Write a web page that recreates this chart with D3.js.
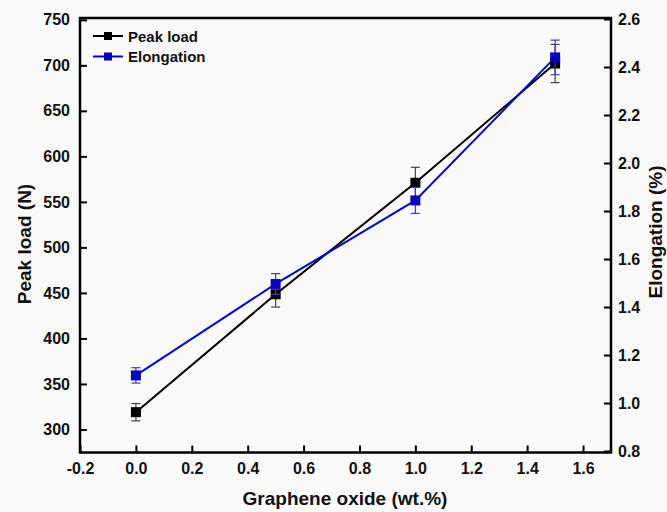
<!DOCTYPE html>
<html>
<head>
<meta charset="utf-8">
<script src="https://cdn.jsdelivr.net/npm/d3@7"></script>
<style>
  html, body { margin: 0; padding: 0; background: #fafafa; }
  svg { display: block; }
  text { font-family: "Liberation Sans", Arial, sans-serif; font-weight: bold; fill: #111; }
</style>
</head>
<body>
<svg id="chart" width="667" height="512"></svg>
<script>
// Graphene oxide content (wt.%)
const goContent = [0.0, 0.5, 1.0, 1.5];
// Peak load (N) and its error
const peakLoad = [319, 448.5, 571, 702];
const peakLoadErr = [9.5, 14, 17, 21];
// Elongation (%) and its error
const elongation = [1.115, 1.496, 1.844, 2.44];
const elongationErr = [0.032, 0.043, 0.054, 0.072];

const xTicks = [-0.2, 0.0, 0.2, 0.4, 0.6, 0.8, 1.0, 1.2, 1.4, 1.6];
const leftTicks = [300, 350, 400, 450, 500, 550, 600, 650, 700, 750];
const rightTicks = [0.8, 1.0, 1.2, 1.4, 1.6, 1.8, 2.0, 2.2, 2.4, 2.6];

const seriesNames = ["Peak load", "Elongation"];
const seriesColors = ["#000000", "#0606bb"];
const errColors = ["#444444", "#3a3ad0"];

const svg = d3.select("#chart");
const plotLeft = 80, plotRight = 611, plotTop = 18, plotBottom = 452.5;

const x = d3.scaleLinear().domain([-0.2, 1.7]).range([plotLeft, plotRight]);
const yL = d3.scaleLinear().domain([274.7, 752]).range([plotBottom, plotTop]);
const yR = d3.scaleLinear().domain([0.8, 2.6]).range([451, 19]);

// one decimal, plain hyphen for negatives
const fmt1 = d => d.toFixed(1);

// Axes with inward ticks
const axisStyle = g => {
  g.selectAll(".domain").remove();
  g.selectAll(".tick line").attr("stroke", "#000").attr("stroke-width", 2);
  g.selectAll(".tick text").attr("font-size", 16).attr("font-weight", "bold")
    .attr("font-family", "Liberation Sans, Arial, sans-serif").attr("fill", "#111");
};

svg.append("g").attr("transform", `translate(0,${plotBottom})`)
  .call(d3.axisBottom(x).tickValues(xTicks).tickFormat(fmt1).tickSizeInner(-7).tickSizeOuter(0).tickPadding(10))
  .call(axisStyle);

svg.append("g").attr("transform", `translate(${plotLeft},0)`)
  .call(d3.axisLeft(yL).tickValues(leftTicks).tickFormat(d3.format("d")).tickSizeInner(-7).tickSizeOuter(0).tickPadding(10))
  .call(axisStyle);

svg.append("g").attr("transform", `translate(${plotRight},0)`)
  .call(d3.axisRight(yR).tickValues(rightTicks).tickFormat(fmt1).tickSizeInner(-7).tickSizeOuter(0).tickPadding(7))
  .call(axisStyle);

// Frame
svg.append("rect")
  .attr("x", plotLeft).attr("y", plotTop)
  .attr("width", plotRight - plotLeft).attr("height", plotBottom - plotTop)
  .attr("fill", "none").attr("stroke", "#000").attr("stroke-width", 2.5);

// Axis titles
svg.append("text").attr("x", 345).attr("y", 505).attr("text-anchor", "middle")
  .attr("font-size", 19).text("Graphene oxide (wt.%)");
svg.append("text").attr("transform", "translate(31,244) rotate(-90)").attr("text-anchor", "middle")
  .attr("font-size", 19).text("Peak load (N)");
svg.append("text").attr("transform", "translate(662,232) rotate(-90)").attr("text-anchor", "middle")
  .attr("font-size", 19).text("Elongation (%)");

// Series
const series = [
  { values: peakLoad, errs: peakLoadErr, y: yL },
  { values: elongation, errs: elongationErr, y: yR }
];

const plot = svg.append("g");
series.forEach((s, i) => {
  const pts = goContent.map((g, j) => ({ x: g, v: s.values[j], e: s.errs[j] }));
  plot.append("path").datum(pts)
    .attr("fill", "none").attr("stroke", seriesColors[i]).attr("stroke-width", 2)
    .attr("d", d3.line().x(d => x(d.x)).y(d => s.y(d.v)));
});

series.forEach((s, i) => {
  const pts = goContent.map((g, j) => ({ x: g, v: s.values[j], e: s.errs[j] }));
  const g = plot.append("g");
  const eb = g.selectAll(".err").data(pts).enter().append("g");
  eb.append("line")
    .attr("x1", d => x(d.x)).attr("x2", d => x(d.x))
    .attr("y1", d => s.y(d.v - d.e)).attr("y2", d => s.y(d.v + d.e))
    .attr("stroke", errColors[i]).attr("stroke-width", 1.2);
  [-1, 1].forEach(sgn => {
    eb.append("line")
      .attr("x1", d => x(d.x) - 4.5).attr("x2", d => x(d.x) + 4.5)
      .attr("y1", d => s.y(d.v + sgn * d.e)).attr("y2", d => s.y(d.v + sgn * d.e))
      .attr("stroke", errColors[i]).attr("stroke-width", 1.2);
  });
  g.selectAll(".pt").data(pts).enter().append("rect")
    .attr("x", d => x(d.x) - 5).attr("y", d => s.y(d.v) - 5)
    .attr("width", 10).attr("height", 10)
    .attr("fill", seriesColors[i]);
});

// Legend
const legend = svg.append("g");
seriesNames.forEach((name, i) => {
  const ly = 36 + i * 20.5;
  legend.append("line").attr("x1", 93).attr("x2", 123).attr("y1", ly).attr("y2", ly)
    .attr("stroke", seriesColors[i]).attr("stroke-width", 2);
  legend.append("rect").attr("x", 104).attr("y", ly - 4).attr("width", 8).attr("height", 8)
    .attr("fill", seriesColors[i]);
  legend.append("text").attr("x", 128).attr("y", ly + 5.5).attr("font-size", 15).text(name);
});
</script>
</body>
</html>
